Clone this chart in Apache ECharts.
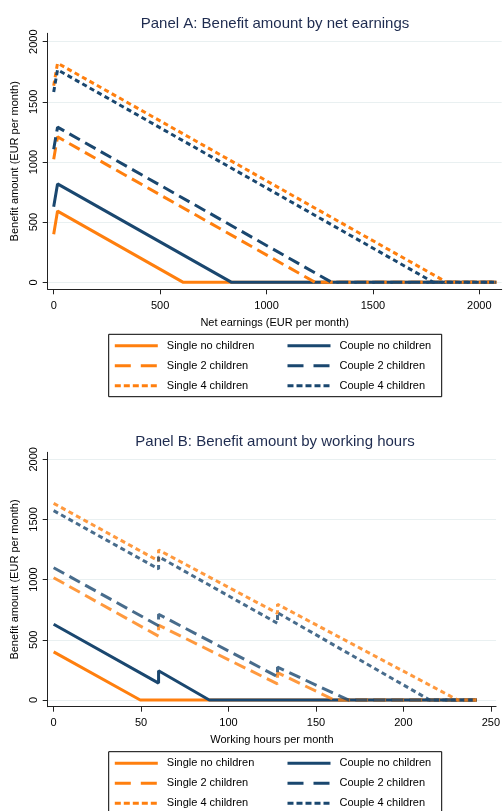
<!DOCTYPE html>
<html>
<head>
<meta charset="utf-8">
<script src="https://cdn.jsdelivr.net/npm/echarts@6/dist/echarts.min.js"></script>
<style>
  html, body { margin: 0; padding: 0; background: #ffffff; }
  #chart { width: 503px; height: 811px; }
</style>
</head>
<body>
<div id="chart"></div>
<script>
// Household types, in plotting order
const seriesNames = ['Single no children', 'Couple no children', 'Single 2 children',
                     'Couple 2 children', 'Single 4 children', 'Couple 4 children'];

// Panel A: benefit (EUR/month) against net earnings (EUR/month), as [earnings, benefit]
const earnSingleNo  = [[0, 400], [18, 592], [609, 0], [2080, 0]];
const earnCoupleNo  = [[0, 628], [18, 818], [836, 0], [2080, 0]];
const earnSingle2   = [[0, 1024], [18, 1209], [1228, 0], [2080, 0]];
const earnCouple2   = [[0, 1107], [18, 1290], [1306, 0], [2080, 0]];
const earnSingle4   = [[0, 1635], [18, 1822], [1847, 0], [2080, 0]];
const earnCouple4   = [[0, 1583], [18, 1767], [1784, 0], [2080, 0]];

// Panel B: benefit (EUR/month) against working hours per month, as [hours, benefit]
const hoursSingleNo = [[0, 400], [49.5, 0], [242, 0]];
const hoursCoupleNo = [[0, 629], [60, 140], [60, 243], [89, 0], [242, 0]];
const hoursSingle2  = [[0, 1016], [60, 530], [60, 622], [128, 133], [128, 227], [160.5, 0], [242, 0]];
const hoursCouple2  = [[0, 1099], [60, 617], [60, 712], [128, 194], [128, 272], [168.5, 0], [242, 0]];
const hoursSingle4  = [[0, 1634], [60, 1155], [60, 1246], [128, 720], [128, 795], [231, 0], [242, 0]];
const hoursCouple4  = [[0, 1573], [60, 1088], [60, 1191], [128, 637], [128, 725], [215, 0], [242, 0]];

// Tick labels
const benefitTicks  = [0, 500, 1000, 1500, 2000];
const earningsTicks = [0, 500, 1000, 1500, 2000];
const hoursTicks    = [0, 50, 100, 150, 200, 250];

const ORANGE = '#ff7f0e';
const NAVY = '#1a476f';
const FONT = 'Liberation Sans, Arial, Helvetica, sans-serif';

const seriesColors = [ORANGE, NAVY, ORANGE, NAVY, ORANGE, NAVY];
const plotDash   = ['solid', 'solid', [12, 6], [12, 6], [5, 3.5], [5, 3.5]];
const legendDash = ['solid', 'solid', [16, 10], [16, 10], [6, 3], [6, 3]];

const panelA = [earnSingleNo, earnCoupleNo, earnSingle2, earnCouple2, earnSingle4, earnCouple4];
const panelB = [hoursSingleNo, hoursCoupleNo, hoursSingle2, hoursCouple2, hoursSingle4, hoursCouple4];

function makeSeries(data, gridIdx, fade) {
  return data.map((d, i) => ({
    name: seriesNames[i],
    type: 'line',
    xAxisIndex: gridIdx,
    yAxisIndex: gridIdx,
    data: d,
    symbol: 'none',
    clip: false,
    silent: true,
    animation: false,
    lineStyle: {
      color: seriesColors[i],
      width: 3,
      type: plotDash[i],
      opacity: (fade && i > 1) ? 0.8 : 1
    },
    itemStyle: { color: seriesColors[i] }
  }));
}

function valueAxis(grid, min, max, ticks, name, vertical) {
  return {
    type: 'value',
    gridIndex: grid,
    min: min,
    max: max,
    name: name,
    nameLocation: 'middle',
    nameGap: vertical ? 21 : 28,
    nameRotate: vertical ? 90 : 0,
    nameTextStyle: { fontFamily: FONT, fontSize: 11, color: '#000' },
    axisLine: { show: true, onZero: false, lineStyle: { color: '#222', width: 1 } },
    axisTick: { show: true, length: 5, customValues: ticks, lineStyle: { color: '#222' } },
    axisLabel: {
      customValues: ticks,
      formatter: v => String(v),
      fontFamily: FONT, fontSize: 11, color: '#000',
      margin: vertical ? 8 : 11,
      rotate: vertical ? 90 : 0
    },
    splitLine: vertical ? { show: true, lineStyle: { color: '#e9f0f1', width: 1 } } : { show: false }
  };
}

function legendCol(names, left, top) {
  return {
    orient: 'vertical',
    left: left,
    top: top,
    padding: 0,
    itemGap: 6,
    itemWidth: 43,
    itemHeight: 14,
    selectedMode: false,
    textStyle: { fontFamily: FONT, fontSize: 11, color: '#000', padding: [0, 0, 0, 4],
                 height: 14, lineHeight: 14 },
    data: names.map(n => {
      const i = seriesNames.indexOf(n);
      return { name: n,
               itemStyle: { opacity: 0, borderWidth: 0 },
               lineStyle: { color: seriesColors[i], width: 3, type: legendDash[i], opacity: 1 } };
    })
  };
}

const chart = echarts.init(document.getElementById('chart'), null, { renderer: 'canvas' });

const leftNames = ['Single no children', 'Single 2 children', 'Single 4 children'];
const rightNames = ['Couple no children', 'Couple 2 children', 'Couple 4 children'];

chart.setOption({
  backgroundColor: '#ffffff',
  animation: false,
  title: [
    { text: 'Panel A: Benefit amount by net earnings', left: 275, top: 16, textAlign: 'center', padding: 0,
      textStyle: { fontFamily: FONT, fontSize: 15, fontWeight: 'normal', color: '#1e2b4f' } },
    { text: 'Panel B: Benefit amount by working hours', left: 275, top: 434, textAlign: 'center', padding: 0,
      textStyle: { fontFamily: FONT, fontSize: 15, fontWeight: 'normal', color: '#1e2b4f' } }
  ],
  grid: [
    { left: 47.7, right: 1.3, top: 33.3, height: 256, containLabel: false },
    { left: 47.7, right: 1.3, top: 452.3, height: 254.4, containLabel: false }
  ],
  xAxis: [
    valueAxis(0, -28.2, 2105, earningsTicks, 'Net earnings (EUR per month)', false),
    valueAxis(1, -3.4, 253, hoursTicks, 'Working hours per month', false)
  ],
  yAxis: [
    valueAxis(0, -58, 2070, benefitTicks, 'Benefit amount (EUR per month)', true),
    valueAxis(1, -56, 2058, benefitTicks, 'Benefit amount (EUR per month)', true)
  ],
  legend: [
    legendCol(leftNames, 113.3, 338.7),
    legendCol(rightNames, 286, 338.7),
    legendCol(leftNames, 113.3, 756.3),
    legendCol(rightNames, 286, 756.3)
  ],
  graphic: [
    { type: 'rect', shape: { x: 108.7, y: 334.3, width: 333, height: 62.4 },
      style: { fill: 'none', stroke: '#000', lineWidth: 1 }, silent: true },
    { type: 'rect', shape: { x: 108.7, y: 751.7, width: 333, height: 70 },
      style: { fill: 'none', stroke: '#000', lineWidth: 1 }, silent: true }
  ],
  series: makeSeries(panelA, 0, false).concat(makeSeries(panelB, 1, true))
});
</script>
</body>
</html>
